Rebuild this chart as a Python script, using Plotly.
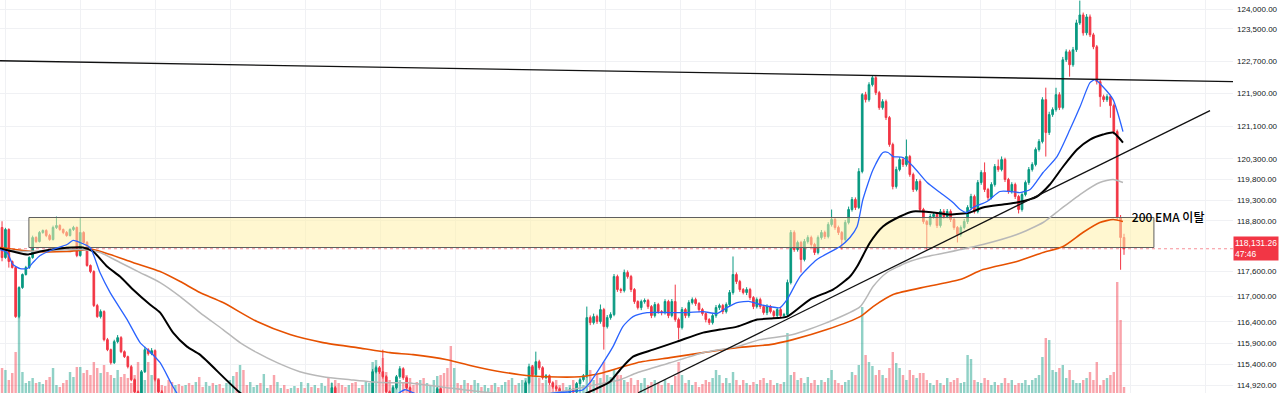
import math
import plotly.graph_objects as go

# ---------------- data ----------------
FIRST_OPEN = 118640

closes = [
    117922, 118592, 117827, 117684, 116522, 117208, 117517, 117684, 117922, 118400,
    118305, 118520, 118568, 118448, 118353, 118640, 118688, 118592, 118520, 118448,
    118592, 118640, 117970, 118520, 118281, 117732, 117588, 116782, 116522, 116640,
    115980, 115745, 115441, 115933, 116027, 115698, 115581, 115347, 115044, 114764,
    114625, 115230, 115745, 115651, 115722, 115044, 114764, 114462, 114300, 114160,
    113998, 114091, 113929, 113767, 113883, 113698, 113606, 113744, 113652, 113537,
    113698, 113837, 113744, 113883, 113791, 113652, 113721, 113860, 113975, 113883,
    114022, 113929, 113814, 113952, 114068, 114160, 114022, 114114, 114230, 114137,
    114045, 114184, 114300, 114207, 114114, 114253, 114346, 114253, 114392, 114300,
    114416, 114323, 114462, 114369, 114485, 114578, 114532, 114858, 114695, 114578,
    114485, 114392, 114508, 114346, 114253, 114369, 114276, 114392, 114625, 115230,
    115324, 115230, 115114, 114764, 114578, 114858, 115114, 115300, 115091, 114858,
    114625, 114462, 114346, 114439, 114300, 114392, 114485, 114695, 114834, 114578,
    114439, 114300, 114160, 114253, 114114, 113998, 114137, 114045, 113929, 114068,
    114160, 114022, 114114, 114230, 114137, 114276, 114184, 114323, 114416, 114346,
    114462, 114392, 114532, 114578, 114974, 115347, 115161, 115464, 115324, 115091,
    115137, 114974, 114881, 114834, 114695, 114532, 114625, 114811, 114764, 114951,
    115044, 115137, 116498, 116380, 116522, 116404, 116687, 116286, 116498, 116569,
    117469, 117161, 117137, 117565, 117469, 117161, 116877, 116734, 116877, 116900,
    116758, 116545, 116806, 116640, 116616, 116877, 116545, 116877, 116451, 116263,
    116687, 116545, 116853, 116924, 116829, 116687, 116593, 116451, 116380, 116545,
    116734, 116782, 116640, 116806, 117090, 117517, 117350, 117161, 117090, 117161,
    116971, 116758, 116924, 116758, 116616, 116758, 116640, 116545, 116687, 116545,
    116569, 117327, 118520, 118113, 118281, 117875, 118305, 118400, 118233, 118041,
    118400, 118520, 118424, 118712, 118832, 118640, 118520, 118353, 118760, 119073,
    119314, 119121, 119992, 121871, 121748, 122117, 122289, 121920, 121552, 121699,
    121307, 120648, 119628, 120040, 120282, 120161, 120355, 119918, 119555, 119749,
    119073, 118784, 118712, 118904, 118952, 118688, 119025, 118904, 119025, 118832,
    118640, 118472, 118640, 118784, 119121, 119386, 119025, 119724, 119967, 119555,
    119362, 119676, 120113, 120040, 120282, 119797, 119507, 119676, 119386, 119073,
    119434, 119724, 120040, 120161, 120526, 120720, 121748, 120940, 121380, 121503,
    121871, 121552, 122734, 122932, 122610, 122982, 123652, 123851, 123403, 123802,
    123354, 123056, 122191, 121822, 121748, 121822, 121601, 120964, 118880, 118400,
    118131.26,
]

upper_wicks = [
    150, 40, 30, 25, 35, 30, 25, 40, 30, 45,
    30, 35, 25, 30, 40, 45, 215, 30, 25, 35,
    30, 40, 25, 360, 30, 35, 25, 30, 40, 50,
    30, 40, 25, 45, 60, 35, 30, 25, 40, 30,
    30, 40, 70, 35, 60, 30, 25, 40, 30, 35,
    30, 25, 40, 35, 30, 45, 30, 25, 40, 30,
    35, 30, 25, 40, 30, 35, 30, 45, 30, 25,
    40, 30, 35, 30, 25, 40, 30, 35, 30, 25,
    30, 40, 35, 30, 25, 30, 40, 30, 35, 30,
    25, 30, 40, 35, 30, 45, 30, 120, 40, 30,
    30, 25, 40, 35, 30, 25, 40, 30, 45, 60,
    50, 40, 515, 35, 30, 45, 40, 60, 35, 30,
    30, 40, 35, 30, 25, 40, 45, 50, 60, 35,
    30, 25, 40, 35, 30, 25, 40, 30, 35, 30,
    40, 30, 25, 35, 30, 40, 30, 25, 35, 40,
    30, 35, 40, 60, 50, 70, 40, 235, 45, 35,
    40, 30, 35, 40, 30, 25, 40, 45, 35, 40,
    45, 40, 260, 50, 70, 45, 120, 40, 60, 55,
    60, 45, 40, 70, 50, 40, 35, 30, 45, 50,
    40, 35, 60, 40, 35, 55, 40, 60, 400, 45,
    60, 40, 55, 50, 45, 35, 40, 30, 35, 50,
    60, 45, 40, 50, 60, 430, 50, 40, 35, 55,
    40, 35, 50, 45, 35, 55, 40, 35, 50, 45,
    40, 70, 60, 50, 45, 40, 60, 55, 45, 40,
    50, 60, 45, 55, 240, 40, 45, 35, 60, 70,
    60, 50, 80, 40, 70, 60, 50, 40, 45, 60,
    50, 40, 45, 70, 60, 55, 415, 40, 45, 60,
    50, 40, 35, 60, 55, 40, 60, 55, 60, 50,
    40, 35, 50, 60, 55, 65, 45, 60, 55, 245,
    40, 55, 60, 170, 75, 45, 40, 55, 45, 40,
    55, 50, 60, 55, 50, 60, 60, 295, 70, 55,
    170, 60, 70, 60, 50, 70, 80, 360, 60, 70,
    60, 50, 45, 60, 50, 60, 45, 50, 50, 60,
    90,
]

lower_wicks = [
    90, 30, 145, 25, 30, 40, 30, 25, 35, 30,
    35, 25, 30, 40, 30, 25, 35, 30, 40, 30,
    25, 35, 40, 30, 35, 30, 40, 35, 30, 45,
    40, 35, 45, 30, 40, 35, 30, 40, 35, 45,
    40, 35, 30, 45, 35, 40, 30, 35, 40, 30,
    35, 30, 40, 30, 35, 30, 40, 35, 30, 40,
    30, 35, 40, 30, 35, 30, 40, 30, 35, 40,
    30, 35, 30, 40, 35, 30, 35, 40, 30, 35,
    40, 30, 35, 30, 40, 35, 30, 35, 40, 30,
    35, 30, 40, 30, 35, 40, 30, 45, 35, 40,
    35, 40, 30, 45, 35, 30, 40, 35, 40, 45,
    40, 50, 45, 40, 60, 35, 40, 45, 50, 40,
    35, 40, 30, 45, 35, 40, 30, 45, 40, 35,
    40, 30, 35, 40, 30, 35, 40, 30, 35, 40,
    30, 35, 40, 30, 45, 35, 30, 40, 35, 30,
    40, 35, 30, 45, 50, 40, 45, 40, 50, 45,
    40, 55, 45, 50, 40, 60, 45, 40, 50, 45,
    40, 45, 50, 60, 45, 55, 50, 540, 45, 50,
    40, 55, 60, 45, 50, 60, 55, 45, 60, 50,
    55, 60, 45, 50, 65, 45, 60, 40, 50, 280,
    45, 60, 50, 45, 55, 60, 50, 65, 55, 45,
    50, 55, 60, 45, 40, 50, 60, 55, 45, 60,
    55, 60, 45, 55, 50, 60, 45, 55, 60, 50,
    60, 50, 45, 55, 50, 310, 45, 50, 55, 60,
    45, 50, 60, 45, 50, 55, 60, 240, 50, 45,
    50, 60, 40, 45, 70, 50, 45, 60, 55, 50,
    60, 55, 70, 50, 45, 60, 50, 55, 60, 45,
    60, 55, 600, 50, 55, 60, 50, 55, 45, 60,
    55, 190, 50, 45, 60, 55, 50, 45, 55, 60,
    65, 45, 50, 55, 45, 60, 55, 50, 60, 95,
    50, 45, 55, 50, 45, 50, 45, 585, 60, 55,
    50, 60, 45, 55, 295, 50, 55, 50, 70, 60,
    55, 60, 70, 250, 60, 55, 300, 70, 50, 770,
    145,
]

volumes = [
    250, 230, 130, 200, 410, 760, 210, 100, 120, 150,
    100, 110, 90, 130, 160, 250, 80, 60, 100, 130,
    210, 160, 260, 260, 200, 230, 180, 310, 250, 200,
    280, 210, 180, 150, 230, 160, 190, 150, 100, 180,
    310, 210, 130, 310, 180, 130, 150, 80, 70, 130,
    110, 80, 90, 70, 80, 100, 80, 110, 160, 60,
    110, 70, 100, 80, 90, 50, 100, 130, 170, 210,
    280, 230, 80, 110, 60, 80, 100, 190, 50, 80,
    180, 110, 50, 80, 40, 50, 70, 50, 110, 50,
    100, 60, 80, 50, 100, 70, 150, 100, 130, 100,
    80, 60, 80, 100, 110, 50, 80, 110, 100, 310,
    330, 250, 350, 210, 130, 80, 150, 130, 100, 180,
    150, 80, 110, 130, 150, 100, 80, 130, 170, 180,
    200, 250, 470, 250, 100, 80, 130, 100, 80, 130,
    100, 60, 80, 50, 80, 100, 60, 80, 110, 130,
    150, 80, 100, 130, 150, 260, 280, 180, 150, 100,
    130, 80, 100, 130, 80, 100, 60, 80, 130, 100,
    80, 80, 280, 230, 130, 180, 150, 310, 180, 160,
    230, 180, 180, 130, 110, 150, 80, 130, 100, 150,
    80, 110, 130, 100, 80, 130, 100, 80, 170, 310,
    180, 100, 130, 80, 110, 60, 90, 130, 110, 150,
    230, 180, 100, 150, 100, 210, 130, 80, 130, 100,
    80, 110, 90, 130, 150, 100, 130, 80, 100, 90,
    110, 600, 180, 210, 130, 150, 100, 160, 100, 130,
    80, 130, 110, 150, 230, 130, 100, 80, 110, 130,
    210, 180, 280, 860, 380, 310, 270, 180, 230, 180,
    150, 250, 410, 300, 250, 180, 130, 230, 180, 150,
    200, 200, 130, 100, 80, 130, 100, 80, 150, 110,
    130, 150, 100, 110, 380, 340, 130, 110, 100, 150,
    130, 80, 110, 80, 100, 150, 100, 130, 80, 100,
    100, 130, 80, 130, 150, 180, 360, 550, 530, 230,
    210, 250, 280, 150, 230, 130, 100, 100, 130, 150,
    210, 130, 310, 80, 130, 150, 180, 210, 1110, 730,
    60,
]

# moving averages (bar position, price)
ema20_bars = [-0.6, 1.5, 3.2, 5.3, 7.4, 9.1, 11.2, 15.0, 19.1, 20.9, 22.9, 25.9, 28.8, 31.8, 36.8, 40.6,
              43.5, 46.5, 50.3, 53.8, 64.1, 81.8, 96.5, 108.2, 115.6, 118.5, 121.5, 128.8, 140.6, 152.4,
              161.2, 167.1, 170.9, 172.9, 176.8, 179.7, 182.6, 185.6, 189.7, 196.5, 201.5, 206.2, 210.3,
              213.2, 216.2, 220.0, 222.9, 228.8, 230.9, 234.7, 239.7, 246.5, 249.4, 251.5, 253.2, 256.2,
              259.1, 260.6, 262.1, 265.0, 268.0, 272.1, 275.9, 279.7, 281.8, 283.8, 285.6, 289.7, 293.5,
              296.5, 299.4, 302.4, 306.2, 310.3, 314.1, 317.1, 320.0, 321.5, 323.8, 326.8, 329.7]
ema20_prices = [118113, 118041, 117756, 117660, 117660, 117803, 117970, 118113, 118233, 118329, 118281,
                118161, 117564, 117089, 116451, 115910, 115698, 115441, 114881, 114462, 113883, 113537,
                113652, 114230, 114671, 114811, 114718, 114462, 114160, 114462, 114718, 114764, 114811,
                114974, 115441, 115816, 116286, 116522, 116616, 116616, 116616, 116640, 116593, 116734,
                116853, 116877, 116806, 116734, 116924, 117469, 117875, 118185, 118400, 118664, 119314,
                120040, 120453, 120453, 120355, 120331, 120113, 119724, 119482, 119242, 119073, 119001,
                119121, 119266, 119507, 119507, 119482, 119555, 119967, 120355, 121013, 121577, 122166,
                122240, 122066, 121748, 120964]

ema50_bars = [-0.6, 3.2, 7.4, 11.2, 17.1, 20.9, 23.8, 26.8, 30.9, 34.7, 38.5, 43.5, 46.5, 50.3, 54.4, 58.2,
              70.0, 81.8, 102.4, 131.8, 158.2, 170.9, 178.8, 181.8, 185.6, 191.5, 198.5, 206.2, 211.2,
              216.2, 222.1, 225.9, 230.9, 237.6, 244.4, 249.4, 251.5, 255.3, 259.1, 264.1, 268.0, 273.8,
              278.8, 284.7, 288.5, 294.4, 298.5, 304.4, 308.2, 312.1, 316.2, 320.0, 323.8, 326.8, 329.7]
ema50_prices = [118137, 118065, 117994, 118065, 118137, 118161, 118161, 118065, 117708, 117469, 117161,
                116806, 116616, 116145, 115816, 115628, 114741, 114114, 113652, 113652, 114230, 114695,
                114997, 115277, 115581, 115745, 115933, 116145, 116216, 116286, 116451, 116475, 116522,
                116924, 117161, 117469, 117708, 118281, 118664, 118904, 119025, 119001, 118952, 119001,
                119121, 119194, 119242, 119386, 119676, 120113, 120526, 120769, 120891, 120940, 120696]

ema100_bars = [-0.6, 5.3, 22.9, 28.8, 34.7, 40.6, 46.5, 52.4, 58.2, 65.0, 70.0, 75.0, 80.9, 87.6, 94.4,
               102.4, 108.2, 114.1, 119.1, 130.9, 140.6, 152.4, 164.1, 175.9, 181.8, 186.8, 196.5, 206.2,
               216.2, 222.9, 232.6, 242.6, 252.4, 256.2, 260.3, 266.2, 272.1, 277.9, 288.5, 298.5, 306.2,
               311.2, 317.9, 322.9, 326.8, 329.7]
ema100_prices = [118137, 118065, 118113, 118041, 117803, 117564, 117327, 116995, 116616, 116216, 115910,
                 115675, 115441, 115230, 115114, 115044, 114997, 114974, 114974, 114858, 114764, 114695,
                 114764, 114951, 115044, 115207, 115441, 115675, 115816, 115980, 116098, 116380, 116758,
                 117232, 117565, 117803, 117946, 118041, 118233, 118472, 118760, 119073, 119482, 119724,
                 119797, 119724]

ema200_bars = [-0.6, 9.1, 19.1, 26.8, 31.8, 38.5, 46.5, 52.4, 58.2, 65.0, 75.0, 84.7, 94.4, 104.4, 114.1,
               120.9, 130.9, 140.6, 152.4, 160.3, 170.0, 176.8, 186.8, 196.5, 206.2, 216.2, 225.9, 232.6,
               242.6, 252.4, 256.2, 262.1, 272.1, 281.8, 288.5, 298.5, 306.2, 312.1, 317.9, 322.9, 326.8,
               329.7]
ema200_prices = [118161, 118065, 118065, 118113, 117994, 117803, 117588, 117350, 117090, 116853, 116404,
                 116098, 115910, 115792, 115675, 115628, 115511, 115324, 115161, 115114, 115114, 115207,
                 115441, 115558, 115675, 115792, 115863, 115980, 116216, 116522, 116758, 117042, 117232,
                 117398, 117636, 117827, 118041, 118185, 118520, 118760, 118832, 118784]

# drawings
resistance_bars = [-0.6, 362.1]
resistance_prices = [122709, 122191]
support_bars = [187.1, 355.3]
support_prices = [114741, 121478]
zone_bars = [7.9, 338.8]
zone_prices = [118161, 118880]
note_text = "200 EMA 이탈"
note_bar = 332.3
note_price = 118850
countdown = "47:46"

tick_prices = [124000, 123500, 122700, 121900, 121100, 120300, 119800, 119300, 118800,
               117600, 117000, 116400, 115900, 115400, 114920]
tick_labels = [f"{p:,.2f}" for p in tick_prices]

# ---------------- view settings ----------------
PRICE_LO, PRICE_HI = 114735, 124226
BAR_LO, BAR_HI = -0.6, 362.06
UP, DOWN = "#089981", "#f23645"
UP_VOL, DOWN_VOL = "rgba(8,153,129,0.45)", "rgba(242,54,69,0.45)"
GRID = "#f0f1f4"
FONT = "Liberation Sans, Arial, sans-serif"

bars = list(range(len(closes)))
opens = [FIRST_OPEN] + closes[:-1]
highs = [max(o, c) + u for o, c, u in zip(opens, closes, upper_wicks)]
lows = [min(o, c) - l for o, c, l in zip(opens, closes, lower_wicks)]
vol_colors = [UP_VOL if c >= o else DOWN_VOL for o, c in zip(opens, closes)]
last_price = closes[-1]

fig = go.Figure()

# volume (base axis, drawn underneath)
fig.add_trace(go.Bar(x=bars, y=volumes, marker=dict(color=vol_colors, line=dict(width=0)),
                     width=0.72, yaxis="y", hoverinfo="skip", showlegend=False))

# yellow zone
zx = [zone_bars[0], zone_bars[1], zone_bars[1], zone_bars[0], zone_bars[0]]
zy = [zone_prices[0], zone_prices[0], zone_prices[1], zone_prices[1], zone_prices[0]]
fig.add_trace(go.Scatter(x=zx, y=zy, mode="lines", fill="toself",
                         fillcolor="rgba(255,241,170,0.55)",
                         line=dict(color="#5f5f5f", width=1), yaxis="y2",
                         hoverinfo="skip", showlegend=False))

# last price dotted line
fig.add_trace(go.Scatter(x=[BAR_LO, BAR_HI], y=[last_price, last_price], mode="lines",
                         line=dict(color="rgba(242,54,69,0.55)", width=1, dash="dot"),
                         yaxis="y2", hoverinfo="skip", showlegend=False))

# candles
fig.add_trace(go.Candlestick(
    x=bars, open=opens, high=highs, low=lows, close=closes, yaxis="y2",
    increasing=dict(line=dict(color=UP, width=1), fillcolor=UP),
    decreasing=dict(line=dict(color=DOWN, width=1), fillcolor=DOWN),
    whiskerwidth=0, hoverinfo="skip", showlegend=False))

# EMAs
for bx, py, col, w in [
    (ema200_bars, ema200_prices, "#e65100", 1.6),
    (ema100_bars, ema100_prices, "#b8b8b8", 1.5),
    (ema50_bars, ema50_prices, "#000000", 2.0),
    (ema20_bars, ema20_prices, "#2962ff", 1.3),
]:
    fig.add_trace(go.Scatter(x=bx, y=py, mode="lines",
                             line=dict(color=col, width=w, shape="spline", smoothing=0.6),
                             yaxis="y2", hoverinfo="skip", showlegend=False))

# trend lines
for bx, py in [(resistance_bars, resistance_prices), (support_bars, support_prices)]:
    fig.add_trace(go.Scatter(x=bx, y=py, mode="lines", line=dict(color="#111111", width=1.3),
                             yaxis="y2", hoverinfo="skip", showlegend=False))

# note text
fig.add_trace(go.Scatter(x=[note_bar], y=[note_price], mode="text", text=[note_text],
                         textposition="middle right",
                         textfont=dict(family="Noto Sans CJK KR, Noto Sans, sans-serif", size=12,
                                       color="#000000", weight=500),
                         yaxis="y2", hoverinfo="skip", showlegend=False))

# last price label on the axis
fig.add_annotation(xref="paper", x=1.0, xanchor="left", yref="y2", y=math.log10(last_price),
                   yanchor="middle", text=f"{last_price:,.2f}<br>{countdown}", showarrow=False,
                   align="left", bgcolor=DOWN, borderpad=1,
                   font=dict(family=FONT, size=8.5, color="white"))

fig.update_layout(
    width=1280, height=393,
    margin=dict(l=0, r=47, t=0, b=0, autoexpand=False),
    paper_bgcolor="white", plot_bgcolor="white",
    showlegend=False, hovermode=False,
    xaxis=dict(range=[BAR_LO, BAR_HI], showticklabels=False, ticks="", showgrid=True,
               gridcolor=GRID, gridwidth=1, zeroline=False, showline=False,
               tickmode="linear", tick0=22.94, dtick=22.06, automargin=False,
               rangeslider=dict(visible=False)),
    yaxis=dict(range=[0, 3930], visible=False, showgrid=False, zeroline=False, fixedrange=True),
    yaxis2=dict(type="log", overlaying="y", side="right", automargin=False,
                range=[math.log10(PRICE_LO), math.log10(PRICE_HI)],
                tickmode="array", tickvals=tick_prices, ticktext=tick_labels,
                showgrid=True, gridcolor=GRID, gridwidth=1, zeroline=False, showline=False,
                ticks="", ticklabelstandoff=3,
                tickfont=dict(family=FONT, size=8, color="#131722")),
)

fig.write_html("out.html", config={"displayModeBar": False},
               post_script="document.body.style.margin='0';document.body.style.overflow='hidden';")
